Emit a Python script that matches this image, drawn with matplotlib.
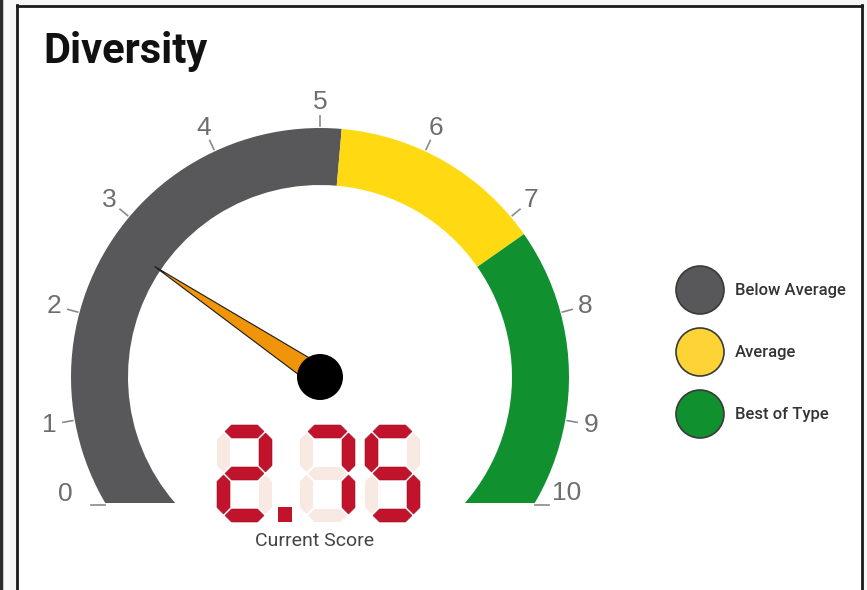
import numpy as np
import matplotlib
matplotlib.use('Agg')
import matplotlib.pyplot as plt
from matplotlib.patches import Wedge, Circle, Polygon, Rectangle
from matplotlib import font_manager

# chart data
title = 'Diversity'
score = 2.75
score_label = 'Current Score'
scale_min, scale_max = 0, 10
tick_values = [0, 1, 2, 3, 4, 5, 6, 7, 8, 9, 10]
band_names = ['Below Average', 'Average', 'Best of Type']
band_edges = [0, 5.2, 7.2, 10]
band_colors = ['#58585a', '#ffda12', '#11902f']
legend_colors = ['#58585a', '#fdd335', '#11902f']

# fonts
names = {f.name for f in font_manager.fontManager.ttflist}
narrow = 'Roboto' if 'Roboto' in names else 'DejaVu Sans'
plain = 'Liberation Sans' if 'Liberation Sans' in names else 'DejaVu Sans'

fig = plt.figure(figsize=(8.67, 5.90), dpi=100, facecolor='#f7f7f7')
ax = fig.add_axes([0, 0, 1, 1])
ax.set_xlim(0, 867)
ax.set_ylim(0, 590)
ax.set_aspect('equal')
ax.axis('off')

# frame
ax.add_patch(Rectangle((17, 0), 845, 585, facecolor='white', edgecolor='none'))
ax.plot([17, 17], [0, 585], color='#1a1a1a', lw=2)
ax.plot([17, 862], [584.5, 584.5], color='#1a1a1a', lw=2)
ax.plot([862, 862], [0, 585], color='#1a1a1a', lw=2)
ax.plot([1, 1], [0, 590], color='#2a2a2a', lw=2.5)

# gauge geometry
cx, cy = 320, 213
r_out, r_in = 249, 192
y_cut = cy - 126
start_ang, sweep = 215, 250


def ang(v):
    return start_ang - sweep * (v - scale_min) / (scale_max - scale_min)


clip = Rectangle((0, y_cut), 867, 600, transform=ax.transData)
for i, col in enumerate(band_colors):
    a1 = ang(band_edges[i + 1])
    a2 = ang(band_edges[i])
    if i == 0:
        a2 += 20
    if i == len(band_colors) - 1:
        a1 -= 20
    w = Wedge((cx, cy), r_out, a1, a2, width=r_out - r_in,
              facecolor=col, edgecolor='none')
    ax.add_patch(w)
    w.set_clip_path(clip)

tick_col = '#8a8a8a'
lab_col = '#6e6e6e'
xo = np.sqrt(r_out ** 2 - (cy - y_cut) ** 2)
for v in tick_values:
    if v == scale_min:
        ax.plot([cx - xo - 14, cx - xo], [y_cut - 2, y_cut - 2], color=tick_col, lw=1.2)
        ax.text(cx - xo - 33, 89, str(v), ha='right', va='baseline',
                fontsize=19, color=lab_col, family=plain)
        continue
    if v == scale_max:
        ax.plot([cx + xo, cx + xo + 14], [y_cut - 2, y_cut - 2], color=tick_col, lw=1.2)
        ax.text(cx + xo + 17, 90, str(v), ha='left', va='baseline',
                fontsize=19, color=lab_col, family=plain)
        continue
    t = np.radians(ang(v))
    ax.plot([cx + 251 * np.cos(t), cx + 261 * np.cos(t)],
            [cy + 251 * np.sin(t), cy + 261 * np.sin(t)], color=tick_col, lw=1.2)
    ax.text(cx + 275 * np.cos(t), cy + 275 * np.sin(t), str(v), ha='center',
            va='center', fontsize=19, color=lab_col, family=plain)

# needle
t = np.radians(ang(score))
tip = (cx + 199 * np.cos(t), cy + 199 * np.sin(t))
px, py = -np.sin(t), np.cos(t)
needle = Polygon([tip, (cx + 11 * px, cy + 11 * py), (cx - 11 * px, cy - 11 * py)],
                 closed=True, facecolor='#f0940a', edgecolor='#1a1a1a', lw=0.8)
ax.add_patch(needle)
ax.add_patch(Circle((cx, cy), 23, facecolor='black', edgecolor='none'))

# seven segment display
segments = {'0': 'abcdef', '1': 'bc', '2': 'abged', '3': 'abgcd', '4': 'fgbc',
            '5': 'afgcd', '6': 'afgedc', '7': 'abc', '8': 'abcdefg', '9': 'abcdfg'}
W, H, th, gp = 55, 97, 13, 1.5
on_col, off_col = '#c1132b', '#f8e9e3'


def hseg(x0, y0, yc):
    x1, x2 = x0 + th / 2 + gp, x0 + W - th / 2 - gp
    return [(x1, yc), (x1 + th / 2, yc + th / 2), (x2 - th / 2, yc + th / 2),
            (x2, yc), (x2 - th / 2, yc - th / 2), (x1 + th / 2, yc - th / 2)]


def vseg(xc, y1, y2):
    y1, y2 = y1 + gp, y2 - gp
    return [(xc, y1), (xc + th / 2, y1 + th / 2), (xc + th / 2, y2 - th / 2),
            (xc, y2), (xc - th / 2, y2 - th / 2), (xc - th / 2, y1 + th / 2)]


def draw_digit(x0, y0, ch):
    xl, xr = x0 + th / 2, x0 + W - th / 2
    yb, ym, yt = y0 + th / 2, y0 + H / 2, y0 + H - th / 2
    shapes = {'a': hseg(x0, y0, yt), 'g': hseg(x0, y0, ym), 'd': hseg(x0, y0, yb),
              'f': vseg(xl, ym, yt), 'b': vseg(xr, ym, yt),
              'e': vseg(xl, yb, ym), 'c': vseg(xr, yb, ym)}
    for k, pts in shapes.items():
        lit = k in segments[ch]
        ax.add_patch(Polygon(pts, closed=True, facecolor=on_col if lit else off_col,
                             edgecolor='#a00e22' if lit else 'none', lw=0.4))


txt = f'{score:.2f}'
x, y0 = 217, 68
prev = None
for ch in txt:
    if ch == '.':
        x += 6
        ax.add_patch(Rectangle((x, y0), 14, 15, facecolor=on_col, edgecolor='none'))
        x += 22
    else:
        if prev is not None and prev != '.':
            x += 10
        draw_digit(x, y0, ch)
        x += W
    prev = ch

ax.text(315, 44, score_label, ha='center', va='baseline', fontsize=14,
        color='#444444', family=narrow)

# title
ax.text(43, 527, title, ha='left', va='baseline', fontsize=30, fontweight='bold',
        color='#111111', family=narrow)

# legend
for i, (name, col) in enumerate(zip(band_names, legend_colors)):
    ly = 300 - 62 * i
    ax.add_patch(Circle((700, ly), 24, facecolor=col, edgecolor='#3a3a3a', lw=1.2))
    ax.text(735, ly, name, ha='left', va='center', fontsize=12, fontweight='medium',
            color='#333333', family=narrow)

fig.savefig('out.png', dpi=100, facecolor=fig.get_facecolor())
